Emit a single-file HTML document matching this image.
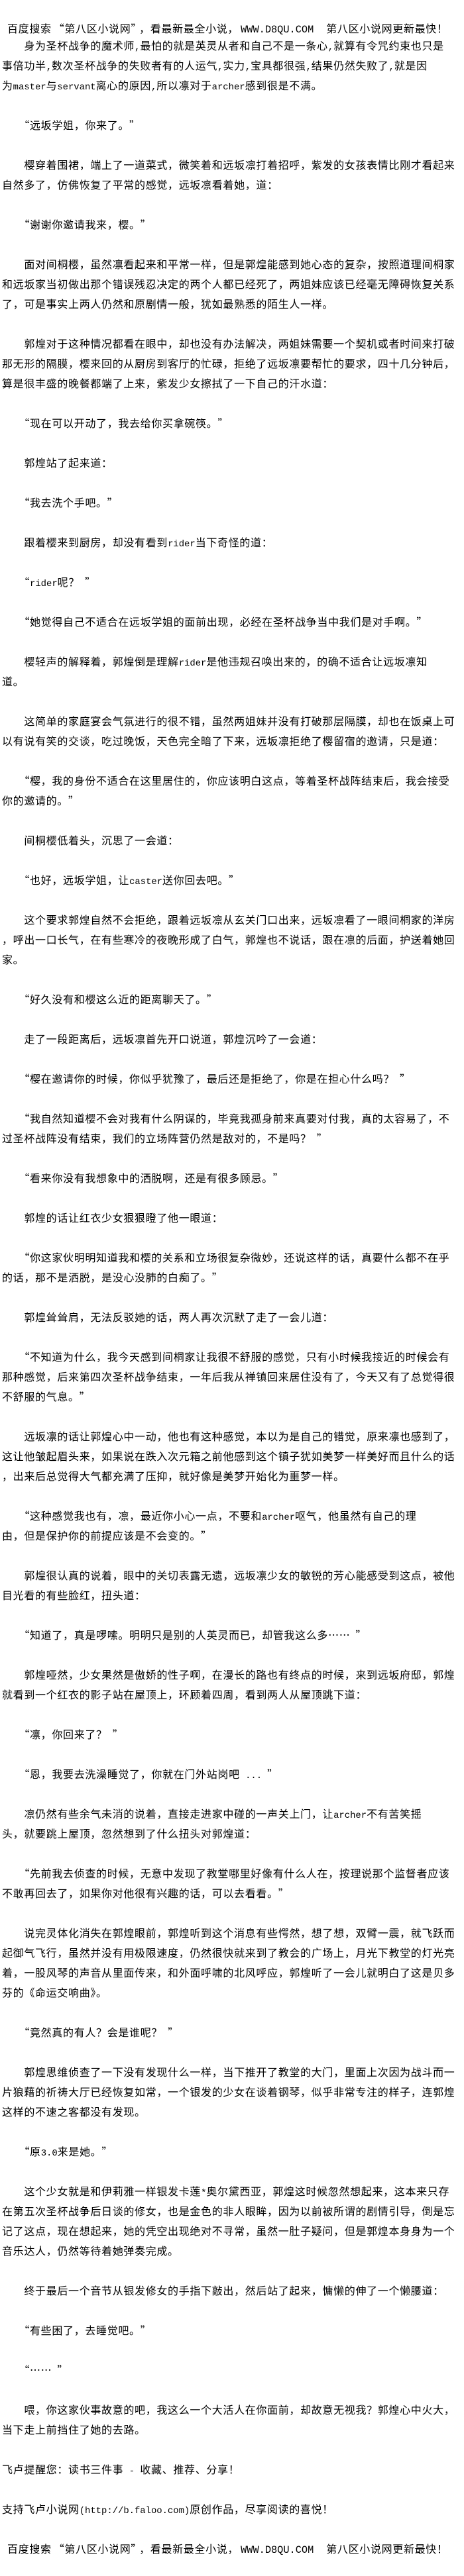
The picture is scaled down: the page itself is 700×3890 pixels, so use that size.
<!DOCTYPE html>
<html lang="zh-CN">
<head>
<meta charset="utf-8">
<title>第八区小说网</title>
<style>
html,body{margin:0;padding:0;background:#fff;width:700px;height:3890px;overflow:hidden}
body{position:relative;font-family:"WenQuanYi Zen Hei","Noto Sans CJK SC","Liberation Serif",sans-serif;font-size:16px;letter-spacing:.67px;color:#000}
#t{position:absolute;left:3px;top:53px;width:697px}
article{margin:0 0 30px;padding:0}
div{height:30px;line-height:30px;white-space:pre}
i{font-family:"Liberation Mono",monospace;font-style:normal;font-size:13.89px;letter-spacing:0}
b{font-weight:normal;position:relative;left:8px}
.h{position:absolute;left:11px;top:27px}
.h2{margin-left:8px}
.w{font-size:15.3px}
.a{margin-left:3px}
.c{margin-left:4px}
</style>
</head>
<body>
<div class="h">百度搜索<span class="a">“</span>第八区小说网”<span class="c">，</span>看最新最全小说，<i class="w a">WWW.D8QU.COM</i><span style="margin-left:19px">第八区小说网更新最快！</span></div>
<section id="t">
<article><div>　　身为圣杯战争的魔术师<i>,</i>最怕的就是英灵从者和自己不是一条心<i>,</i>就算有令咒约束也只是</div><div>事倍功半<i>,</i>数次圣杯战争的失败者有的人运气<i>,</i>实力<i>,</i>宝具都很强<i>,</i>结果仍然失败了<i>,</i>就是因</div><div>为<i>master</i>与<i>servant</i>离心的原因<i>,</i>所以凛对于<i>archer</i>感到很是不满。</div></article>
<article><div>　　“远坂学姐，你来了。<b>”</b></div></article>
<article><div>　　樱穿着围裙，端上了一道菜式，微笑着和远坂凛打着招呼，紫发的女孩表情比刚才看起来</div><div>自然多了，仿佛恢复了平常的感觉，远坂凛看着她，道：</div></article>
<article><div>　　“谢谢你邀请我来，樱。<b>”</b></div></article>
<article><div>　　面对间桐樱，虽然凛看起来和平常一样，但是郭煌能感到她心态的复杂，按照道理间桐家</div><div>和远坂家当初做出那个错误残忍决定的两个人都已经死了，两姐妹应该已经毫无障碍恢复关系</div><div>了，可是事实上两人仍然和原剧情一般，犹如最熟悉的陌生人一样。</div></article>
<article><div>　　郭煌对于这种情况都看在眼中，却也没有办法解决，两姐妹需要一个契机或者时间来打破</div><div>那无形的隔膜，樱来回的从厨房到客厅的忙碌，拒绝了远坂凛要帮忙的要求，四十几分钟后，</div><div>算是很丰盛的晚餐都端了上来，紫发少女擦拭了一下自己的汗水道：</div></article>
<article><div>　　“现在可以开动了，我去给你买拿碗筷。<b>”</b></div></article>
<article><div>　　郭煌站了起来道：</div></article>
<article><div>　　“我去洗个手吧。<b>”</b></div></article>
<article><div>　　跟着樱来到厨房，却没有看到<i>rider</i>当下奇怪的道：</div></article>
<article><div>　　“<i>rider</i>呢？<b>”</b></div></article>
<article><div>　　“她觉得自己不适合在远坂学姐的面前出现，必经在圣杯战争当中我们是对手啊。<b>”</b></div></article>
<article><div>　　樱轻声的解释着，郭煌倒是理解<i>rider</i>是他违规召唤出来的，的确不适合让远坂凛知</div><div>道。</div></article>
<article><div>　　这简单的家庭宴会气氛进行的很不错，虽然两姐妹并没有打破那层隔膜，却也在饭桌上可</div><div>以有说有笑的交谈，吃过晚饭，天色完全暗了下来，远坂凛拒绝了樱留宿的邀请，只是道：</div></article>
<article><div>　　“樱，我的身份不适合在这里居住的，你应该明白这点，等着圣杯战阵结束后，我会接受</div><div>你的邀请的。<b>”</b></div></article>
<article><div>　　间桐樱低着头，沉思了一会道：</div></article>
<article><div>　　“也好，远坂学姐，让<i>caster</i>送你回去吧。<b>”</b></div></article>
<article><div>　　这个要求郭煌自然不会拒绝，跟着远坂凛从玄关门口出来，远坂凛看了一眼间桐家的洋房</div><div>，呼出一口长气，在有些寒冷的夜晚形成了白气，郭煌也不说话，跟在凛的后面，护送着她回</div><div>家。</div></article>
<article><div>　　“好久没有和樱这么近的距离聊天了。<b>”</b></div></article>
<article><div>　　走了一段距离后，远坂凛首先开口说道，郭煌沉吟了一会道：</div></article>
<article><div>　　“樱在邀请你的时候，你似乎犹豫了，最后还是拒绝了，你是在担心什么吗？<b>”</b></div></article>
<article><div>　　“我自然知道樱不会对我有什么阴谋的，毕竟我孤身前来真要对付我，真的太容易了，不</div><div>过圣杯战阵没有结束，我们的立场阵营仍然是敌对的，不是吗？<b>”</b></div></article>
<article><div>　　“看来你没有我想象中的洒脱啊，还是有很多顾忌。<b>”</b></div></article>
<article><div>　　郭煌的话让红衣少女狠狠瞪了他一眼道：</div></article>
<article><div>　　“你这家伙明明知道我和樱的关系和立场很复杂微妙，还说这样的话，真要什么都不在乎</div><div>的话，那不是洒脱，是没心没肺的白痴了。<b>”</b></div></article>
<article><div>　　郭煌耸耸肩，无法反驳她的话，两人再次沉默了走了一会儿道：</div></article>
<article><div>　　“不知道为什么，我今天感到间桐家让我很不舒服的感觉，只有小时候我接近的时候会有</div><div>那种感觉，后来第四次圣杯战争结束，一年后我从禅镇回来居住没有了，今天又有了总觉得很</div><div>不舒服的气息。<b>”</b></div></article>
<article><div>　　远坂凛的话让郭煌心中一动，他也有这种感觉，本以为是自己的错觉，原来凛也感到了，</div><div>这让他皱起眉头来，如果说在跌入次元箱之前他感到这个镇子犹如美梦一样美好而且什么的话</div><div>，出来后总觉得大气都充满了压抑，就好像是美梦开始化为噩梦一样。</div></article>
<article><div>　　“这种感觉我也有，凛，最近你小心一点，不要和<i>archer</i>呕气，他虽然有自己的理</div><div>由，但是保护你的前提应该是不会变的。<b>”</b></div></article>
<article><div>　　郭煌很认真的说着，眼中的关切表露无遗，远坂凛少女的敏锐的芳心能感受到这点，被他</div><div>目光看的有些脸红，扭头道：</div></article>
<article><div>　　“知道了，真是啰嗦。明明只是别的人英灵而已，却管我这么多……<b>”</b></div></article>
<article><div>　　郭煌哑然，少女果然是傲娇的性子啊，在漫长的路也有终点的时候，来到远坂府邸，郭煌</div><div>就看到一个红衣的影子站在屋顶上，环顾着四周，看到两人从屋顶跳下道：</div></article>
<article><div>　　“凛，你回来了？<b>”</b></div></article>
<article><div>　　“恩，我要去洗澡睡觉了，你就在门外站岗吧<i> ...</i><b>”</b></div></article>
<article><div>　　凛仍然有些余气未消的说着，直接走进家中碰的一声关上门，让<i>archer</i>不有苦笑摇</div><div>头，就要跳上屋顶，忽然想到了什么扭头对郭煌道：</div></article>
<article><div>　　“先前我去侦查的时候，无意中发现了教堂哪里好像有什么人在，按理说那个监督者应该</div><div>不敢再回去了，如果你对他很有兴趣的话，可以去看看。<b>”</b></div></article>
<article><div>　　说完灵体化消失在郭煌眼前，郭煌听到这个消息有些愕然，想了想，双臂一震，就飞跃而</div><div>起御气飞行，虽然并没有用极限速度，仍然很快就来到了教会的广场上，月光下教堂的灯光亮</div><div>着，一股风琴的声音从里面传来，和外面呼啸的北风呼应，郭煌听了一会儿就明白了这是贝多</div><div>芬的《命运交响曲》。</div></article>
<article><div>　　“竟然真的有人？会是谁呢？<b>”</b></div></article>
<article><div>　　郭煌思维侦查了一下没有发现什么一样，当下推开了教堂的大门，里面上次因为战斗而一</div><div>片狼藉的祈祷大厅已经恢复如常，一个银发的少女在谈着钢琴，似乎非常专注的样子，连郭煌</div><div>这样的不速之客都没有发现。</div></article>
<article><div>　　“原<i>3.0</i>来是她。<b>”</b></div></article>
<article><div>　　这个少女就是和伊莉雅一样银发卡莲<i>*</i>奥尔黛西亚，郭煌这时候忽然想起来，这本来只存</div><div>在第五次圣杯战争后日谈的修女，也是金色的非人眼眸，因为以前被所谓的剧情引导，倒是忘</div><div>记了这点，现在想起来，她的凭空出现绝对不寻常，虽然一肚子疑问，但是郭煌本身身为一个</div><div>音乐达人，仍然等待着她弹奏完成。</div></article>
<article><div>　　终于最后一个音节从银发修女的手指下敲出，然后站了起来，慵懒的伸了一个懒腰道：</div></article>
<article><div>　　“有些困了，去睡觉吧。<b>”</b></div></article>
<article><div>　　“……<b>”</b></div></article>
<article><div>　　喂，你这家伙事故意的吧，我这么一个大活人在你面前，却故意无视我？郭煌心中火大，</div><div>当下走上前挡住了她的去路。</div></article>
<article><div>飞卢提醒您：读书三件事<i> - </i>收藏、推荐、分享！</div></article>
<article><div>支持飞卢小说网<i>(http://b.faloo.com)</i>原创作品，尽享阅读的喜悦！</div></article>
<article><div class="h2">百度搜索<span class="a">“</span>第八区小说网”<span class="c">，</span>看最新最全小说，<i class="w a">WWW.D8QU.COM</i><span style="margin-left:19px">第八区小说网更新最快！</span></div></article>
</section>
</body>
</html>
